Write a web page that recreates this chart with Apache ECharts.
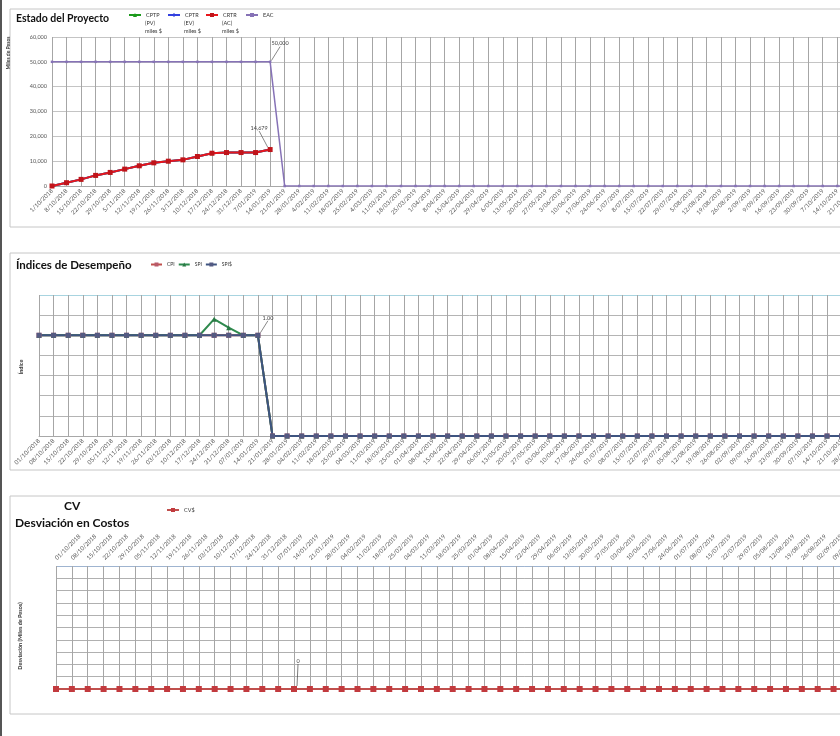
<!DOCTYPE html>
<html lang="es">
<head>
<meta charset="UTF-8">
<title>Estado del Proyecto</title>
<script src="https://cdn.jsdelivr.net/npm/echarts@6/dist/echarts.min.js"></script>
<style>
    html, body { margin: 0; padding: 0; background: #fff; overflow: hidden; }
    /* el grafico original esta recortado a la derecha */
    #main { width: 1020px; height: 736px; }
</style>
</head>
<body>
<div id="main"></div>
<script>
    // semanas del proyecto (eje x de los tres graficos)
    var fechas = [
        '01/10/2018', '08/10/2018', '15/10/2018', '22/10/2018', '29/10/2018', '05/11/2018',
        '12/11/2018', '19/11/2018', '26/11/2018', '03/12/2018', '10/12/2018', '17/12/2018',
        '24/12/2018', '31/12/2018', '07/01/2019', '14/01/2019', '21/01/2019', '28/01/2019',
        '04/02/2019', '11/02/2019', '18/02/2019', '25/02/2019', '04/03/2019', '11/03/2019',
        '18/03/2019', '25/03/2019', '01/04/2019', '08/04/2019', '15/04/2019', '22/04/2019',
        '29/04/2019', '06/05/2019', '13/05/2019', '20/05/2019', '27/05/2019', '03/06/2019',
        '10/06/2019', '17/06/2019', '24/06/2019', '01/07/2019', '08/07/2019', '15/07/2019',
        '22/07/2019', '29/07/2019', '05/08/2019', '12/08/2019', '19/08/2019', '26/08/2019',
        '02/09/2019', '09/09/2019', '16/09/2019', '23/09/2019', '30/09/2019', '07/10/2019',
        '14/10/2019', '21/10/2019', '28/10/2019', '04/11/2019', '11/11/2019', '18/11/2019'
    ];

    // Estado del Proyecto (miles de pesos)
    var cptp = [0, 1330, 2670, 4270, 5470, 6800, 8130, 9330, 10000, 10530, 11870, 13200, 13470, 13470, 13470, 14679];
    var cptr = [0, 1330, 2670, 4270, 5470, 6800, 8130, 9330, 10000, 10530, 11870, 13200, 13470, 13470, 13470, 14679];
    var crtr = [0, 1330, 2670, 4270, 5470, 6800, 8130, 9330, 10000, 10530, 11870, 13200, 13470, 13470, 13470, 14679];
    var eac = [
        50000, 50000, 50000, 50000, 50000, 50000, 50000, 50000, 50000, 50000, 50000, 50000, 50000, 50000, 50000, 50000,
        0, 0, 0, 0, 0, 0, 0, 0, 0, 0, 0, 0, 0, 0, 0, 0, 0, 0, 0, 0, 0, 0, 0, 0, 0, 0, 0, 0,
        0, 0, 0, 0, 0, 0, 0, 0, 0, 0, 0, 0, 0, 0, 0, 0
    ];

    // Indices de Desempeño
    var cpi = [
        1, 1, 1, 1, 1, 1, 1, 1, 1, 1, 1, 1, 1, 1, 1, 1,
        0, 0, 0, 0, 0, 0, 0, 0, 0, 0, 0, 0, 0, 0, 0, 0, 0, 0, 0, 0, 0, 0, 0, 0, 0, 0, 0, 0,
        0, 0, 0, 0, 0, 0, 0, 0, 0, 0, 0, 0, 0, 0, 0, 0
    ];
    var spi = [
        1, 1, 1, 1, 1, 1, 1, 1, 1, 1, 1, 1, 1.16, 1.075, 1, 1,
        0, 0, 0, 0, 0, 0, 0, 0, 0, 0, 0, 0, 0, 0, 0, 0, 0, 0, 0, 0, 0, 0, 0, 0, 0, 0, 0, 0,
        0, 0, 0, 0, 0, 0, 0, 0, 0, 0, 0, 0, 0, 0, 0, 0
    ];
    var spis = [
        1, 1, 1, 1, 1, 1, 1, 1, 1, 1, 1, 1, 1, 1, 1, 1,
        0, 0, 0, 0, 0, 0, 0, 0, 0, 0, 0, 0, 0, 0, 0, 0, 0, 0, 0, 0, 0, 0, 0, 0, 0, 0, 0, 0,
        0, 0, 0, 0, 0, 0, 0, 0, 0, 0, 0, 0, 0, 0, 0, 0
    ];

    // Desviacion en Costos
    var cvs = [
        0, 0, 0, 0, 0, 0, 0, 0, 0, 0, 0, 0, 0, 0, 0, 0, 0, 0, 0, 0,
        0, 0, 0, 0, 0, 0, 0, 0, 0, 0, 0, 0, 0, 0, 0, 0, 0, 0, 0, 0,
        0, 0, 0, 0, 0, 0, 0, 0, 0, 0, 0, 0, 0, 0, 0, 0, 0, 0, 0, 0
    ];

    var FONT = 'Lato, "Open Sans", sans-serif';

    // etiqueta solo en un punto
    function marca(arr, idx, texto) {
        return arr.map(function (v, i) {
            if (i !== idx) return v;
            return { value: v, label: { show: true, formatter: texto } };
        });
    }

    function ejeX(grid, pos, margen, fmt) {
        return {
            type: 'category', gridIndex: grid, position: pos, data: fechas, boundaryGap: false,
            axisTick: { show: false },
            axisLine: { lineStyle: { color: '#a8a8a8' } },
            axisLabel: { interval: 0, rotate: 45, fontSize: 6, color: '#555', fontFamily: FONT, margin: margen, formatter: fmt },
            splitLine: { show: true, interval: 0, lineStyle: { color: '#a6a6a6', width: 1 } }
        };
    }

    function leyenda(izq, arriba, nombre) {
        return {
            left: izq, top: arriba, itemWidth: 12, itemHeight: 5, padding: 0,
            data: [nombre],
            textStyle: { fontSize: 5.5, color: '#333', fontFamily: FONT }
        };
    }

    function subtexto(x, txt) {
        return { type: 'text', x: x, y: 19,
            style: { text: txt, font: '5.5px ' + FONT, fill: '#333', lineHeight: 8 } };
    }

    var etiqueta = { fontSize: 5.5, color: '#444', fontFamily: FONT, position: 'top', distance: 0 };
    var titulo = { fontWeight: 'bold', color: '#111', fontFamily: FONT };

    var myChart = echarts.init(document.getElementById('main'));
    var option = {
        animation: false,
        backgroundColor: '#fff',
        title: [
            { text: 'Estado del Proyecto', left: 16, top: 13, padding: 0, textStyle: Object.assign({ fontSize: 10.5 }, titulo) },
            { text: 'Índices de Desempeño', left: 16, top: 259, padding: 0, textStyle: Object.assign({ fontSize: 11.5 }, titulo) },
            { text: 'CV', left: 64, top: 500, padding: 0, textStyle: Object.assign({ fontSize: 12 }, titulo) },
            { text: 'Desviación en Costos', left: 15, top: 517, padding: 0, textStyle: Object.assign({ fontSize: 12 }, titulo) }
        ],
        legend: [
            leyenda(128, 12, 'CPTP'),
            leyenda(167, 12, 'CPTR'),
            leyenda(205, 12, 'CRTR'),
            leyenda(245, 12, 'EAC'),
            {
                left: 150, top: 262, itemWidth: 11, itemHeight: 5, itemGap: 3, padding: 0,
                data: ['CPI', 'SPI', 'SPI$'],
                textStyle: { fontSize: 5, color: '#333', fontFamily: FONT }
            },
            leyenda(166, 507, 'CV$')
        ],
        grid: [
            { left: 52, top: 37, width: 858, height: 149 },
            { left: 39, top: 295, width: 861, height: 141 },
            { left: 56, top: 566, width: 956, height: 123 }
        ],
        xAxis: [
            ejeX(0, 'bottom', 4, function (v) { return v.replace(/^0/, ''); }),
            ejeX(1, 'bottom', 4),
            ejeX(2, 'top', 7)
        ],
        yAxis: [
            {
                type: 'value', gridIndex: 0, min: 0, max: 60000, interval: 10000,
                axisLine: { show: false }, axisTick: { show: false },
                axisLabel: { fontSize: 5.5, color: '#555', fontFamily: FONT, margin: 5,
                    formatter: function (v) { return v.toLocaleString('en-US'); } },
                splitLine: { lineStyle: { color: '#c4c4c4' } }
            },
            {
                type: 'value', gridIndex: 1, min: 0, max: 1.4, interval: 0.2,
                axisLine: { show: false }, axisTick: { show: false }, axisLabel: { show: false },
                splitLine: { lineStyle: { color: ['#b4b4b4', '#b4b4b4', '#b4b4b4', '#b4b4b4', '#b4b4b4', '#b4b4b4', '#b4b4b4', '#a8d4e0'] } }
            },
            {
                type: 'value', gridIndex: 2, min: 0, max: 10, interval: 1,
                axisLine: { show: false }, axisTick: { show: false }, axisLabel: { show: false },
                splitLine: { lineStyle: { color: ['#b0b0b0', '#b0b0b0', '#b0b0b0', '#b0b0b0', '#b0b0b0', '#b0b0b0', '#b0b0b0', '#b0b0b0', '#b0b0b0', '#b0b0b0', '#9fb4d0'] } }
            }
        ],
        series: [
            { name: 'CPTP', type: 'line', xAxisIndex: 0, yAxisIndex: 0, data: cptp,
              symbol: 'triangle', symbolSize: 4, lineStyle: { width: 2, color: '#1c9a1c' }, itemStyle: { color: '#1c9a1c' } },
            { name: 'CPTR', type: 'line', xAxisIndex: 0, yAxisIndex: 0, data: cptr,
              symbol: 'diamond', symbolSize: 4, lineStyle: { width: 2, color: '#3340e0' }, itemStyle: { color: '#3340e0' } },
            { name: 'EAC', type: 'line', xAxisIndex: 0, yAxisIndex: 0, data: marca(eac, 15, '50,000'),
              symbol: 'rect', symbolSize: 2.5, lineStyle: { width: 1.5, color: '#8672b6' }, itemStyle: { color: '#8672b6' },
              label: etiqueta, labelLine: { show: true, lineStyle: { color: '#555', width: 0.7 } },
              labelLayout: { dx: 10, dy: -14 } },
            { name: 'CRTR', type: 'line', xAxisIndex: 0, yAxisIndex: 0, data: marca(crtr, 15, '14,679'),
              symbol: 'rect', symbolSize: 5, lineStyle: { width: 2, color: '#e8161c' }, itemStyle: { color: '#c0141a' },
              label: etiqueta, labelLine: { show: true, lineStyle: { color: '#555', width: 0.7 } },
              labelLayout: { dx: -11, dy: -16 } },

            { name: 'CPI', type: 'line', xAxisIndex: 1, yAxisIndex: 1, data: cpi,
              symbol: 'rect', symbolSize: 5, lineStyle: { width: 2, color: '#c0504d' }, itemStyle: { color: '#b85a6a' } },
            { name: 'SPI', type: 'line', xAxisIndex: 1, yAxisIndex: 1, data: spi,
              symbol: 'triangle', symbolSize: 5, lineStyle: { width: 2, color: '#2f8a4e' }, itemStyle: { color: '#2a7a45' } },
            { name: 'SPI$', type: 'line', xAxisIndex: 1, yAxisIndex: 1, data: marca(spis, 15, '1.00'),
              symbol: 'rect', symbolSize: 5, lineStyle: { width: 2, color: '#3e5480' }, itemStyle: { color: '#545a82' },
              label: etiqueta, labelLine: { show: true, lineStyle: { color: '#555', width: 0.7 } },
              labelLayout: { dx: 10, dy: -12 } },

            { name: 'CV$', type: 'line', xAxisIndex: 2, yAxisIndex: 2, data: marca(cvs, 15, '0'),
              symbol: 'rect', symbolSize: 6, lineStyle: { width: 2, color: '#c0504d' }, itemStyle: { color: '#c23a3e' },
              label: etiqueta, labelLine: { show: true, lineStyle: { color: '#444', width: 0.7 } },
              labelLayout: { dx: 4, dy: -22 } }
        ],
        graphic: [
            { type: 'rect', z: -10, shape: { x: 0, y: 0, width: 2, height: 736 }, style: { fill: '#555' } },
            { type: 'rect', z: -10, shape: { x: 10, y: 9, width: 1000, height: 218 }, style: { fill: 'none', stroke: '#c6c6c6', lineWidth: 1 } },
            { type: 'rect', z: -10, shape: { x: 10, y: 253, width: 1000, height: 217 }, style: { fill: 'none', stroke: '#c6c6c6', lineWidth: 1 } },
            { type: 'rect', z: -10, shape: { x: 10, y: 496, width: 1000, height: 218 }, style: { fill: 'none', stroke: '#c6c6c6', lineWidth: 1 } },
            subtexto(145, '(PV)\nmiles $'),
            subtexto(184, '(EV)\nmiles $'),
            subtexto(222, '(AC)\nmiles $'),
            { type: 'text', x: 8, y: 53, rotation: Math.PI / 2,
              style: { text: 'Miles de Pesos', font: 'bold 5px ' + FONT, fill: '#333', align: 'center', verticalAlign: 'middle' } },
            { type: 'text', x: 21, y: 367, rotation: Math.PI / 2,
              style: { text: 'Índice', font: 'bold 5.5px ' + FONT, fill: '#333', align: 'center', verticalAlign: 'middle' } },
            { type: 'text', x: 20, y: 636, rotation: Math.PI / 2,
              style: { text: 'Desviación (Miles de Pesos)', font: 'bold 5.5px ' + FONT, fill: '#333', align: 'center', verticalAlign: 'middle' } }
        ]
    };
    myChart.setOption(option);
</script>
</body>
</html>
